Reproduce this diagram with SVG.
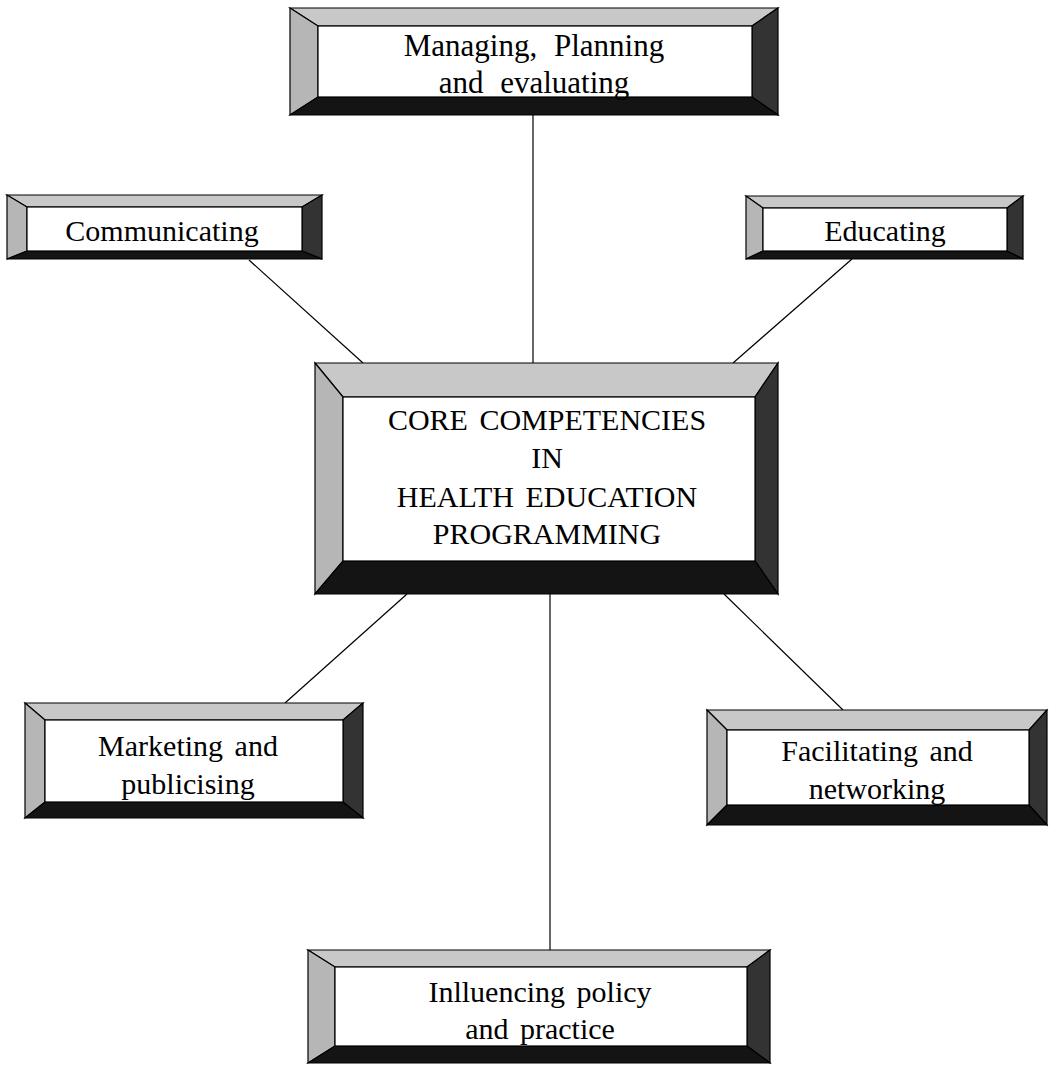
<svg xmlns="http://www.w3.org/2000/svg" width="1050" height="1065" viewBox="0 0 1050 1065">
  <style>
    .bg { fill: #ffffff; }
    .edge { stroke: #000; stroke-width: 1.2; stroke-linejoin: miter; }
    .top { fill: #c8c8c8; }
    .left { fill: #b6b6b6; }
    .right { fill: #333333; }
    .bottom { fill: #141414; }
    .face { fill: #ffffff; stroke: #000; stroke-width: 1.2; }
    .label { font-family: "Liberation Serif", "Times New Roman", serif; font-size: 30px; fill: #000; text-anchor: middle; word-spacing: 4px; }
    .wide { font-size: 31px; word-spacing: 9px; }
    .wire { stroke: #000; stroke-width: 1.2; fill: none; }
  </style>
  <rect class="bg" width="1050" height="1065"/>

  <!-- connectors from the central box to each competency -->
  <g id="connectors">
    <line class="wire" x1="533" y1="115" x2="533" y2="363"/>
    <line class="wire" x1="249" y1="260" x2="363" y2="363"/>
    <line class="wire" x1="852" y1="259" x2="733" y2="363"/>
    <line class="wire" x1="407" y1="594" x2="285" y2="703"/>
    <line class="wire" x1="724" y1="594" x2="843" y2="710"/>
    <line class="wire" x1="550" y1="594" x2="550" y2="950"/>
  </g>

  <!-- bevelled frames: outer rectangle, four bevel faces, inner white panel -->
  <g id="managing">
    <polygon class="top edge" points="290,8 778,8 752,26 318,26"/>
    <polygon class="left edge" points="290,8 318,26 318,97 290,115"/>
    <polygon class="right edge" points="778,8 778,115 752,97 752,26"/>
    <polygon class="bottom edge" points="290,115 318,97 752,97 778,115"/>
    <rect class="face" x="318" y="26" width="434" height="71"/>
    <text class="label wide" x="534" y="56">Managing, Planning</text>
    <text class="label wide" x="534" y="93">and evaluating</text>
  </g>

  <g id="communicating">
    <polygon class="top edge" points="7,195 322,195 302,207 27,207"/>
    <polygon class="left edge" points="7,195 27,207 27,251 7,259"/>
    <polygon class="right edge" points="322,195 322,259 302,251 302,207"/>
    <polygon class="bottom edge" points="7,259 27,251 302,251 322,259"/>
    <rect class="face" x="27" y="207" width="275" height="44"/>
    <text class="label" x="162" y="241">Communicating</text>
  </g>

  <g id="educating">
    <polygon class="top edge" points="746,196 1023,196 1007,208 763,208"/>
    <polygon class="left edge" points="746,196 763,208 763,251 746,259"/>
    <polygon class="right edge" points="1023,196 1023,259 1007,251 1007,208"/>
    <polygon class="bottom edge" points="746,259 763,251 1007,251 1023,259"/>
    <rect class="face" x="763" y="208" width="244" height="43"/>
    <text class="label" x="885" y="241">Educating</text>
  </g>

  <g id="core">
    <polygon class="top edge" points="315,363 778,363 755,397 343,397"/>
    <polygon class="left edge" points="315,363 343,397 343,561 315,594"/>
    <polygon class="right edge" points="778,363 778,594 755,561 755,397"/>
    <polygon class="bottom edge" points="315,594 343,561 755,561 778,594"/>
    <rect class="face" x="343" y="397" width="412" height="164"/>
    <text class="label" x="547" y="430">CORE COMPETENCIES</text>
    <text class="label" x="547" y="468">IN</text>
    <text class="label" x="547" y="507">HEALTH EDUCATION</text>
    <text class="label" x="547" y="544">PROGRAMMING</text>
  </g>

  <g id="marketing">
    <polygon class="top edge" points="25,703 363,703 343,720 45,720"/>
    <polygon class="left edge" points="25,703 45,720 45,802 25,818"/>
    <polygon class="right edge" points="363,703 363,818 343,802 343,720"/>
    <polygon class="bottom edge" points="25,818 45,802 343,802 363,818"/>
    <rect class="face" x="45" y="720" width="298" height="82"/>
    <text class="label" x="188" y="756">Marketing and</text>
    <text class="label" x="188" y="794">publicising</text>
  </g>

  <g id="facilitating">
    <polygon class="top edge" points="707,710 1047,710 1029,730 727,730"/>
    <polygon class="left edge" points="707,710 727,730 727,805 707,825"/>
    <polygon class="right edge" points="1047,710 1047,825 1029,805 1029,730"/>
    <polygon class="bottom edge" points="707,825 727,805 1029,805 1047,825"/>
    <rect class="face" x="727" y="730" width="302" height="75"/>
    <text class="label" x="877" y="761">Facilitating and</text>
    <text class="label" x="877" y="799">networking</text>
  </g>

  <g id="influencing">
    <polygon class="top edge" points="308,950 770,950 747,967 335,967"/>
    <polygon class="left edge" points="308,950 335,967 335,1046 308,1063"/>
    <polygon class="right edge" points="770,950 770,1063 747,1046 747,967"/>
    <polygon class="bottom edge" points="308,1063 335,1046 747,1046 770,1063"/>
    <rect class="face" x="335" y="967" width="412" height="79"/>
    <text class="label" x="540" y="1002">Inlluencing policy</text>
    <text class="label" x="540" y="1039">and practice</text>
  </g>
</svg>
